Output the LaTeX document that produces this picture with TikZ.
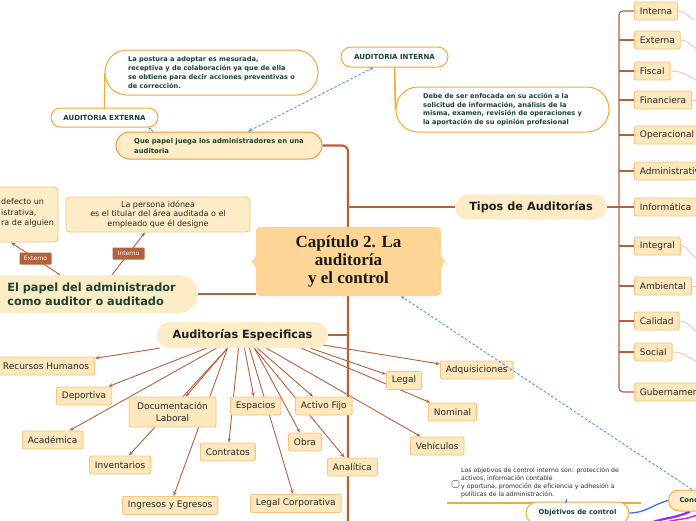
\documentclass[tikz,border=0pt]{standalone}
\usepackage{fontspec}
\setmainfont{DejaVu Sans}
\setsansfont{DejaVu Sans}
\newfontfamily\titlefont{Liberation Serif}
\usetikzlibrary{calc,arrows.meta}
\pgfdeclarelayer{bg}
\pgfdeclarelayer{back}
\pgfsetlayers{back,bg,main}
\definecolor{brn}{RGB}{180,98,60}
\definecolor{brnlight}{RGB}{234,200,182}
\definecolor{orng}{RGB}{246,168,48}
\definecolor{orngdk}{RGB}{240,150,50}
\definecolor{lightfill}{RGB}{253,236,198}
\definecolor{itemfill}{RGB}{253,232,189}
\definecolor{itemborder}{RGB}{247,197,128}
\definecolor{capfill}{RGB}{255,213,150}
\definecolor{dkgreen}{RGB}{24,66,48}
\definecolor{dashblue}{RGB}{80,150,230}
\definecolor{txt}{RGB}{40,40,40}
\definecolor{lineblue}{RGB}{60,110,240}
\definecolor{violetl}{RGB}{150,40,240}
\definecolor{magl}{RGB}{225,40,200}
\begin{document}
\begin{tikzpicture}[x=1pt,y=-1pt,
  trunk/.style={draw=brn, line width=2.2pt},
  bracket/.style={draw=brn, line width=1.2pt},
  faint/.style={draw=brnlight, line width=0.9pt},
  arr/.style={draw=brn, line width=0.9pt, arrows={-Stealth[length=4.5pt,width=3.5pt]}},
  oline/.style={draw=orng, line width=1.6pt},
  bdash/.style={draw=dashblue, line width=0.9pt, dash pattern=on 2.5pt off 2pt},
  item/.style={draw=itemborder, fill=itemfill, line width=0.9pt, rounded corners=2pt, text=txt, font=\fontsize{9}{10.5}\selectfont, inner xsep=5.5pt, inner ysep=0pt, minimum height=18pt},
  topic/.style={fill=lightfill, font=\bfseries\fontsize{11.3}{14}\selectfont, inner sep=0pt},
  sub/.style={fill=white, draw=orng, line width=1pt, text=dkgreen, font=\bfseries\fontsize{6.8}{10}\selectfont, inner sep=0pt},
  bubble/.style={fill=lightfill, draw=itemborder, line width=0.9pt, rounded corners=4pt, text=txt, font=\fontsize{8}{9.7}\selectfont, inner sep=0pt},
  tag/.style={fill=brn, text=white, font=\fontsize{6}{7}\selectfont, inner sep=0pt, minimum width=32pt, minimum height=12pt, rounded corners=1pt}
]
\useasboundingbox (0,0) rectangle (696,520);
\begin{pgfonlayer}{back}
\fill[white] (0,0) rectangle (696,520);
\end{pgfonlayer}

% central node
\node[fill=capfill, rounded corners=4pt, minimum width=185pt, minimum height=69pt, inner sep=0pt, align=center, font=\titlefont\bfseries\fontsize{17}{18}\selectfont, text=black!90] (cap) at (348.5,261.5) {Capítulo 2. La\\auditoría\\y el control};
\fill[capfill] ($(cap.west)+(0.5,-10)$) .. controls ($(cap.west)+(0,-3)$) and ($(cap.west)+(-3,-1)$) .. ($(cap.west)+(-5,0)$) .. controls ($(cap.west)+(-3,1)$) and ($(cap.west)+(0,3)$) .. ($(cap.west)+(0.5,10)$) -- cycle;
\fill[capfill] ($(cap.east)+(-0.5,-10)$) .. controls ($(cap.east)+(0,-3)$) and ($(cap.east)+(3,-1)$) .. ($(cap.east)+(5,0)$) .. controls ($(cap.east)+(3,1)$) and ($(cap.east)+(0,3)$) .. ($(cap.east)+(-0.5,10)$) -- cycle;

% main topics
\node[topic, minimum width=152pt, minimum height=25pt, rounded corners=12.5pt, text=black!88] (tipos) at (531,207) {Tipos de Auditorías};
\node[topic, minimum width=171pt, minimum height=26pt, rounded corners=13pt, text=black!88] (ae) at (242.5,335) {Auditorías Especificas};
\node[topic, minimum width=213pt, minimum height=38pt, rounded corners=19pt, text=dkgreen, align=left] (ep) at (91.5,294) {El papel del administrador\\como auditor o auditado};
\node[sub, fill=lightfill, draw=orngdk, minimum width=206pt, minimum height=27pt, rounded corners=13.5pt, align=left] (qp) at (219,145.5) {Que papel juega los administradores en una\\auditoria};

% auditoria externa / interna
\node[sub, font=\bfseries\fontsize{7}{9}\selectfont, minimum width=107pt, minimum height=19pt, rounded corners=9.5pt] (aext) at (104.5,117.5) {AUDITORIA EXTERNA};
\node[sub, font=\bfseries\fontsize{7}{9}\selectfont, minimum width=107pt, minimum height=20pt, rounded corners=10pt] (ai) at (394.5,57) {AUDITORIA INTERNA};
\node[sub, font=\bfseries\fontsize{6.6}{9}\selectfont, minimum width=213pt, minimum height=45pt, rounded corners=22pt, align=left] (pe) at (211.5,72.5) {La postura a adoptar es mesurada,\\receptiva y de colaboración ya que de ella\\se obtiene para decir acciones preventivas o\\de corrección.};
\node[sub, font=\bfseries\fontsize{6.6}{8.8}\selectfont, minimum width=213pt, minimum height=45pt, rounded corners=22pt, align=left] (pi) at (502.5,109.5) {Debe de ser enfocada en su acción a la\\solicitud de información, análisis de la\\misma, examen, revisión de operaciones y\\la aportación de su opinión profesional};

% bubbles of "El papel"
\node[bubble, minimum width=120pt, minimum height=55pt] (lb) at (-2,214.5) {};
\node[anchor=north west, align=left, inner sep=0pt, text=txt, font=\fontsize{8}{10.5}\selectfont] (lbt) at (1,198.5) {defecto un\\istrativa,\\ra de alguien};
\node[bubble, minimum width=184pt, minimum height=35pt, align=center] (mb) at (158,214.5) {La persona idónea\\es el titular del área auditada o el\\empleado que él designe};

% right column
\coordinate (rb) at (619,207);
\foreach \n/\t/\y in {interna/Interna/11, externa/Externa/40, fiscal/Fiscal/71, financiera/Financiera/100, operacional/Operacional/135, admin/Administrativa/171, informatica/Informática/207, integral/Integral/246, ambiental/Ambiental/286, calidad/Calidad/321, social/Social/352, gub/Gubernamental/392}
  \node[item, anchor=west] (\n) at (634,\y) {\t};

% sub items of Auditorias Especificas
\node[item, anchor=east] (rh) at (95,366) {Recursos Humanos};
\node[item, anchor=west] (dep) at (56,396) {Deportiva};
\node[item, anchor=west] (acad) at (22,440) {Académica};
\node[item, align=center, minimum height=30pt, minimum width=87pt, font=\fontsize{9}{12}\selectfont] (doc) at (172.5,412) {Documentación\\Laboral};
\node[item, anchor=west] (inv) at (89,465) {Inventarios};
\node[item, anchor=west] (ing) at (122,505.5) {Ingresos y Egresos};
\node[item, anchor=west] (con) at (200,452) {Contratos};
\node[item, anchor=west] (esp) at (230,406) {Espacios};
\node[item, anchor=west] (lc) at (250,503.5) {Legal Corporativa};
\node[item, anchor=west] (obra) at (288,442) {Obra};
\node[item, anchor=west] (af) at (295,406) {Activo Fijo};
\node[item, anchor=west] (ana) at (327,467) {Analítica};
\node[item, anchor=west] (adq) at (440,370) {Adquisiciones};
\node[item, anchor=west] (legal) at (386,380.5) {Legal};
\node[item, anchor=west] (nom) at (428,412) {Nominal};
\node[item, anchor=west] (veh) at (410,446) {Vehículos};

% bottom right
\node[draw=black!45, line width=0.7pt, rounded corners=1.5pt, minimum width=7pt, minimum height=7pt, inner sep=0pt] (chk) at (455.5,484) {};
\node[anchor=north west, align=left, inner sep=0pt, text=txt, font=\fontsize{6.2}{8}\selectfont] (objt) at (461,467.5) {Los objetivos de control interno son: protección de\\activos, información contable\\y oportuna, promoción de eficiencia y adhesión a\\políticas de la administración.};
\coordinate (ol1) at (447,503);
\coordinate (ol2) at (641,503);
\node[sub, minimum width=103pt, minimum height=22pt, rounded corners=11pt] (ob) at (577.5,513) {Objetivos de control};
\node[sub, fill=lightfill, inner xsep=11pt, minimum height=21pt, rounded corners=10.5pt, anchor=west] (conc) at (668,500.5) {Conc};
\coordinate (pv) at (650,523);
\coordinate (mg) at (664,523);

\begin{pgfonlayer}{bg}
  % trunk
  \coordinate (tkb) at (348,525);
  \draw[trunk, rounded corners=6pt] (qp.east) -| (tkb);
  \draw[trunk] (tipos.west) -- (tipos.west -| tkb);
  \draw[trunk] (ae.east) -- (ae.east -| tkb);
  \draw[trunk] (ep.east) -- (ep.east -| cap.west);
  % right bracket
  \draw[bracket, rounded corners=4pt] (interna.west) -| (rb) |- (gub.west);
  \foreach \n in {externa,fiscal,financiera,operacional,admin,informatica,integral,ambiental,calidad,social}
    \draw[bracket] (\n.west) -- (\n.west -| rb);
  \draw[bracket] (tipos.east) -- (rb);
  % faint continuations
  \draw[faint] (interna.east) to[out=0,in=150] ++(16,9);
  \draw[faint] (externa.east) to[out=0,in=150] ++(16,9);
  \draw[faint] (fiscal.east) to[out=0,in=150] ++(27,10);
  \draw[faint] (financiera.east) -- ++(6,0);
  \draw[faint] (integral.east) to[out=0,in=150] ++(15,12);
  \draw[faint] (ambiental.east) -- ++(6,0);
  \draw[faint] (calidad.east) to[out=0,in=150] ++(19,12);
  \draw[faint] (social.east) to[out=0,in=150] ++(26,11);
  % orange connectors
  \draw[oline] (aext.north) -- (pe.west);
  \draw[oline] (ai.south) -- (pi.west);
  % arrows of Auditorias Especificas
  \foreach \dx/\t in {-83/rh, -36/dep, -26/acad, -15/doc, -15/inv, -15/ing, -4/con, 2/esp, 7/lc, 12/obra, 15/af, 12/ana, 24/veh, 59/nom, 68/legal}
    \draw[arr] ($(ae.south)+(\dx,0)$) -- (\t);
  \draw[arr] ($(ae.east)+(-5,10)$) -- (adq);
  % bottom right lines
  \draw[draw=orng, line width=1.3pt] (ol1) -- (ol2);
  \draw[draw=lineblue, line width=1.3pt] (ob.east) to[out=0,in=195] (conc.west);
  \draw[draw=violetl, line width=2.2pt] (pv) to[out=20,in=205] ($(conc.south west)+(22,0)$);
  \draw[draw=magl, line width=1.5pt] (mg) to[out=20,in=205] ($(conc.south west)+(30,3)$);
\end{pgfonlayer}

% Externo / Interno arrows
\draw[arr] ($(ep.north)+(-31.5,0)$) -- node[tag]{Externo} ($(lb.south)+(13,0)$);
\draw[arr] ($(ep.north)+(20.5,0)$) -- node[tag]{Interno} ($(mb.south)+(-13,0)$);

% dashed blue relations
\draw[bdash, arrows={Stealth[length=4pt,width=3.5pt]-Stealth[length=4pt,width=3.5pt]}] ($(qp.north)+(29,0)$) -- ($(ai.south)+(-21,0)$);
\draw[bdash, arrows={-Stealth[length=3pt,width=3pt]}] ($(qp.north)+(-66,0)$) -- ($(aext.south)+(44,0)$);
\draw[bdash, arrows={-Stealth[length=4pt,width=3.5pt]}] ($(conc.north west)+(24,0)$) -- ($(cap.south)+(52.5,0)$);
\draw[draw=lineblue, line width=0.8pt, arrows={-Stealth[length=2.5pt,width=2.5pt]}] ($(ol1)+(119,-4)$) -- ($(ol1)+(119,0)$);
\end{tikzpicture}
\end{document}
